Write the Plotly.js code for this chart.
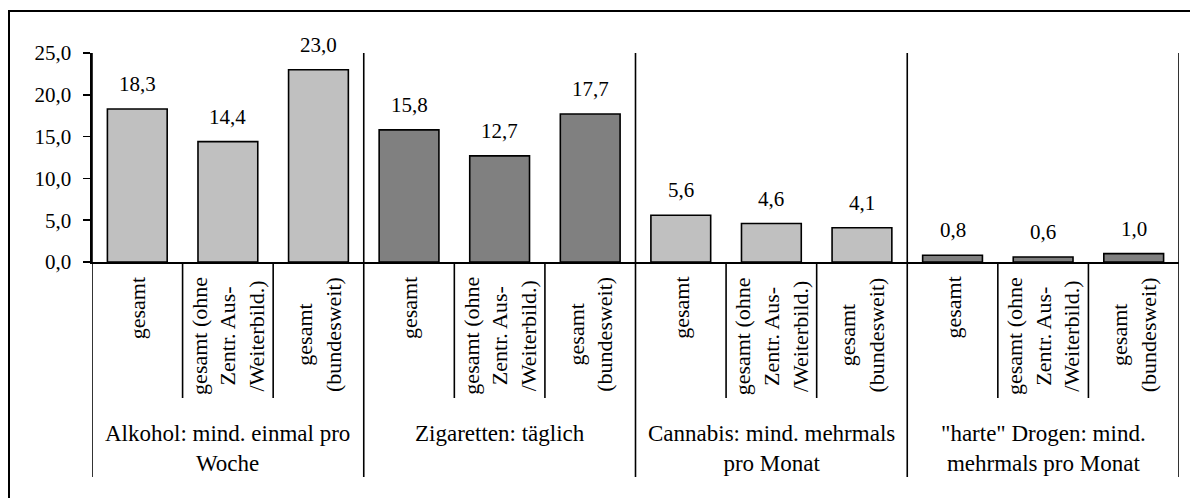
<!DOCTYPE html>
<html>
<head>
<meta charset="utf-8">
<script src="https://cdn.plot.ly/plotly-3.0.1.min.js"></script>
<style>
  html, body { margin: 0; padding: 0; background: #fff; }
  #chart { width: 1190px; height: 498px; }
</style>
</head>
<body>
<div id="chart"></div>
<script>
// ---- data ----
const groupLabels = [
  "Alkohol: mind. einmal pro<br>Woche",
  "Zigaretten: täglich",
  "Cannabis: mind. mehrmals<br>pro Monat",
  "\"harte\" Drogen: mind.<br>mehrmals pro Monat"
];
const subLabels = [
  "gesamt",
  "gesamt (ohne<br>Zentr. Aus-<br>/Weiterbild.)",
  "gesamt<br>(bundesweit)"
];
const alkohol    = [18.3, 14.4, 23.0];
const zigaretten = [15.8, 12.7, 17.7];
const cannabis   = [5.6, 4.6, 4.1];
const drogen     = [0.8, 0.6, 1.0];
const yTicks = [0, 5, 10, 15, 20, 25];

// ---- styling ----
const seriesValues = [alkohol, zigaretten, cannabis, drogen];
const groupColors = ["#C0C0C0", "#808080", "#C0C0C0", "#808080"];
const FONT = "'Liberation Serif', 'Times New Roman', serif";
const plotTopPx = 53, plotBottomPx = 262;
const plotH = plotBottomPx - plotTopPx;
const py = px => (plotBottomPx - px) / plotH;   // pixel row -> paper y

const nSub = subLabels.length;
const traces = [];
const annotations = [];
const shapes = [];

seriesValues.forEach((vals, g) => {
  const xs = vals.map((v, i) => g * nSub + i);
  traces.push({
    type: "bar",
    x: xs,
    y: vals,
    width: 0.66,
    marker: { color: groupColors[g], line: { color: "#000", width: 1.6 } },
    hoverinfo: "skip",
    showlegend: false
  });
  vals.forEach((v, i) => {
    annotations.push({
      xref: "x", yref: "y", x: xs[i], y: v,
      text: v.toFixed(1).replace(".", ","),
      showarrow: false, yanchor: "bottom", yshift: 11,
      font: { family: FONT, size: 21, color: "#000" }
    });
    annotations.push({
      xref: "x", yref: "paper", x: xs[i], y: py(275),
      text: subLabels[i], textangle: -90,
      showarrow: false, yanchor: "top", xanchor: "center", align: "center",
      font: { family: FONT, size: 22, color: "#000" }
    });
    if (i < nSub - 1) {
      shapes.push({
        type: "line", xref: "x", yref: "paper",
        x0: xs[i] + 0.5, x1: xs[i] + 0.5, y0: 0, y1: py(398),
        line: { color: "#000", width: 1.6 }
      });
    }
  });
  annotations.push({
    xref: "x", yref: "paper", x: g * nSub + (nSub - 1) / 2, y: py(419),
    text: groupLabels[g],
    showarrow: false, yanchor: "top", xanchor: "center", align: "center",
    font: { family: FONT, size: 23, color: "#000" }
  });
});

const nGroups = seriesValues.length;
for (let g = 0; g <= nGroups; g++) {
  shapes.push({
    type: "line", xref: "x", yref: "paper",
    x0: g * nSub - 0.5, x1: g * nSub - 0.5, y0: 1, y1: py(477),
    line: { color: "#000", width: 1.6 }
  });
}
// outer frame
shapes.push({
  type: "rect", xref: "paper", yref: "paper",
  x0: (9 - 92) / 1087, x1: 1.05, y0: py(540), y1: py(11),
  line: { color: "#000", width: 2 }, fillcolor: "rgba(0,0,0,0)"
});

const layout = {
  width: 1190, height: 498,
  margin: { l: 92, r: 11, t: plotTopPx, b: 498 - plotBottomPx },
  paper_bgcolor: "#fff", plot_bgcolor: "#fff",
  separators: ",.",
  font: { family: FONT, size: 21, color: "#000" },
  barmode: "group",
  xaxis: {
    range: [-0.5, nGroups * nSub - 0.5],
    showticklabels: false, ticks: "", showgrid: false, zeroline: false,
    showline: true, linecolor: "#000", linewidth: 2, fixedrange: true
  },
  yaxis: {
    range: [0, 25], tickvals: yTicks, tickformat: ".1f",
    ticks: "outside", ticklen: 7, tickwidth: 1.6, tickcolor: "#000",
    showline: true, linecolor: "#000", linewidth: 1.6,
    showgrid: false, zeroline: false, ticklabelstandoff: 8,
    tickfont: { family: FONT, size: 21, color: "#000" }, fixedrange: true
  },
  annotations: annotations,
  shapes: shapes
};

Plotly.newPlot("chart", traces, layout, { staticPlot: true, displayModeBar: false });
</script>
</body>
</html>
